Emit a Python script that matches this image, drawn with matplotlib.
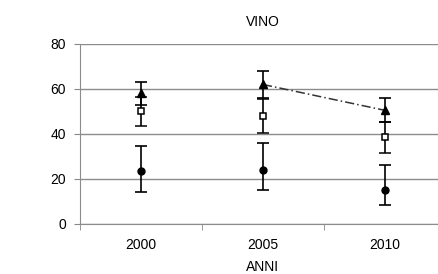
import numpy as np
import matplotlib.pyplot as plt

plt.rcParams['font.family'] = ['Liberation Sans', 'DejaVu Sans']

anni = ['2000', '2005', '2010']
# serie triangoli
tri_val = [58, 62, 50.5]
tri_lo = [5, 6, 5]
tri_hi = [5, 6, 5.5]
# serie quadrati
sq_val = [50, 48, 38.5]
sq_lo = [6.5, 7.5, 7]
sq_hi = [6.5, 7.5, 7]
# serie cerchi
ci_val = [23.5, 24, 15]
ci_lo = [9.5, 8.8, 6.7]
ci_hi = [11, 12.2, 11]
# tratto di tendenza (2005 -> 2010)
trend_idx = [1, 2]

fig = plt.figure(figsize=(4.39, 2.74), dpi=100)
ax = fig.add_axes([0.182, 0.1825, 0.834, 0.657])

x = np.arange(len(anni))
ax.plot([x[i] for i in trend_idx], [tri_val[i] for i in trend_idx],
        color='#333333', lw=1.1, ls=(0, (6, 2, 1, 2)), zorder=2)

ek = dict(ecolor='black', elinewidth=1.2, capsize=4.3, capthick=1.2, ls='none', zorder=3)
ax.errorbar(x, ci_val, yerr=[ci_lo, ci_hi], fmt='o', ms=5, mfc='black', mec='black', **ek)
ax.errorbar(x, sq_val, yerr=[sq_lo, sq_hi], fmt='s', ms=5, mfc='white', mec='black', mew=1.1, **ek)
ax.errorbar(x, tri_val, yerr=[tri_lo, tri_hi], fmt='^', ms=5.5, mfc='black', mec='black', **ek)

ax.set_xlim(-0.5, 2.5)
ax.set_ylim(0, 80)
ax.set_yticks([0, 20, 40, 60, 80])
ax.set_xticks(x)
ax.set_xticklabels(anni)
ax.set_xticks([-0.5, 0.5, 1.5, 2.5], minor=True)
ax.tick_params(axis='x', which='major', length=0, pad=10, labelsize=10)
ax.tick_params(axis='x', which='minor', length=4, color='#888888', direction='out')
ax.tick_params(axis='y', length=4, color='#888888', labelsize=10, pad=6)

ax.grid(axis='y', color='#8c8c8c', lw=1)
ax.set_axisbelow(True)
for s in ['top', 'right']:
    ax.spines[s].set_visible(False)
for s in ['left', 'bottom']:
    ax.spines[s].set_color('#8c8c8c')

ax.set_title('VINO', fontsize=10, pad=13)
ax.set_xlabel('ANNI', fontsize=10, labelpad=6)

fig.savefig('out.png', dpi=100)
